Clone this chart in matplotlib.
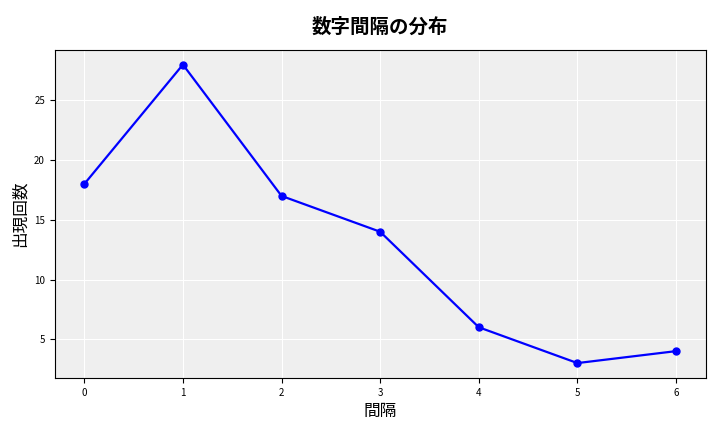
import matplotlib
matplotlib.use('Agg')
import matplotlib.pyplot as plt

plt.rcParams['font.family'] = ['Noto Sans CJK JP', 'DejaVu Sans']

# === Data ===
intervals = [0, 1, 2, 3, 4, 5, 6]
counts = [18, 28, 17, 14, 6, 3, 4]

# === Plot ===
fig, ax = plt.subplots(figsize=(7.2, 4.32), dpi=100)
ax.set_facecolor('#efefef')
ax.plot(intervals, counts, color='blue', marker='o', markersize=5, linewidth=1.6)

ax.grid(True, color='white', linewidth=0.8)
ax.set_axisbelow(True)
ax.set_title('数字間隔の分布', fontsize=14, fontweight='bold', pad=12)
ax.set_xlabel('間隔', fontsize=12)
ax.set_ylabel('出現回数', fontsize=12)
ax.tick_params(labelsize=7)
ax.set_xlim(-0.3, 6.3)
ax.set_ylim(1.75, 29.25)

plt.subplots_adjust(left=0.076, right=0.98, top=0.885, bottom=0.125)
plt.savefig('out.png')
